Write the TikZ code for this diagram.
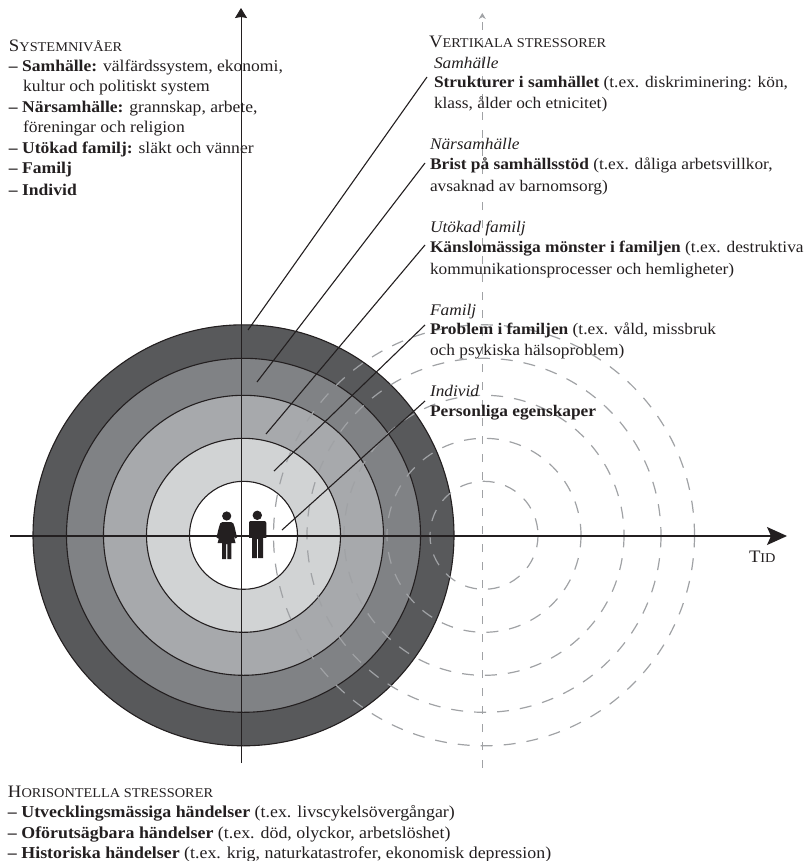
\documentclass[tikz,border=0pt]{standalone}
\usepackage{fontspec}
\setmainfont[FakeStretch=1.07]{Liberation Serif}
\usetikzlibrary{arrows.meta}
\definecolor{ink}{HTML}{231F20}
\definecolor{ringA}{HTML}{58595B}
\definecolor{ringB}{HTML}{808285}
\definecolor{ringC}{HTML}{A7A9AC}
\definecolor{ringD}{HTML}{D1D3D4}
\definecolor{dashgray}{HTML}{A0A2A5}
\newcommand\capsmall[2]{{\fontsize{17.5}{20}\selectfont #1}{\fontsize{13.4}{20}\selectfont #2}}
\tikzset{
  txt/.style={anchor=base west,inner sep=0pt,outer sep=0pt,text=ink,font=\fontsize{16.2}{20}\selectfont},
  txtleft/.style={txt,font=\fontsize{16.4}{20}\selectfont},
  txtbottom/.style={txt,font=\fontsize{16.7}{20}\selectfont},
  ringline/.style={draw=ink,line width=1.1pt},
  dashring/.style={draw=dashgray,line width=1.2pt,dash pattern=on 12pt off 11pt},
  axisline/.style={draw=ink,line width=1pt},
  leader/.style={draw=ink,line width=1.1pt},
  person/.style={fill=ink,draw=none}
}
\begin{document}
\begin{tikzpicture}[x=1pt,y=-1pt]
\useasboundingbox (0,0) rectangle (807,861);
% coordinates
\coordinate (c) at (243.5,535.3);
\coordinate (d) at (484,535.3);
% rings
\foreach \r/\f in {210.5/ringA,177/ringB,140/ringC,97/ringD,54/white}
  \path[ringline,fill=\f] (c) circle[radius=\r];
% time-shifted dashed rings
\foreach \r in {210.5,177,140,97,54}
  \path[dashring] (d) circle[radius=\r];
% axes
\coordinate (vtop) at (241,8);
\coordinate (vbot) at (241,763);
\coordinate (dtop) at (482.3,13);
\coordinate (dbot) at (482.3,768);
\coordinate (hleft) at (10,536);
\coordinate (hright) at (787,536);
\draw[draw=dashgray,line width=.8pt,dash pattern=on 8pt off 10pt,-{Stealth[length=6pt,width=7pt,fill=dashgray]}] (dbot) -- (dtop);
\draw[axisline,-{Stealth[length=10pt,width=12pt,inset=1pt]}] (vbot) -- (vtop);
\draw[axisline,line width=1.3pt,-{Stealth[length=20pt,width=18pt,inset=4pt]}] (hleft) -- (hright);
% people
\fill[person] (226.7,516) circle[radius=4.6];
\fill[person] (222.5,522) -- (231,522) .. controls (233,522) and (234,524) .. (234.6,527) -- (237,537.5) -- (235,538.5) -- (232.5,531) -- (235.5,543) -- (231.3,543) -- (231.3,559) -- (227.3,559) -- (227.3,544) -- (226.2,544) -- (226.2,559) -- (222.2,559) -- (222.2,543) -- (217.6,543) -- (221,531) -- (218.5,538.5) -- (216.5,537.5) -- (219,527) .. controls (219.7,524) and (220.5,522) .. (222.5,522) -- cycle;
\fill[person] (257.3,515.3) circle[radius=4.7];
\fill[person] (250.5,521) -- (264.3,521) .. controls (265.5,521) and (266.3,522) .. (266.3,523) -- (266.3,537.8) -- (263,537.8) -- (263,558) -- (258,558) -- (258,539) -- (256.8,539) -- (256.8,558) -- (252,558) -- (252,537.8) -- (249,537.8) -- (249,523) .. controls (249,522) and (249.5,521) .. (250.5,521) -- cycle;
% leaders
\coordinate (l1a) at (427,77); \coordinate (l1b) at (248,330);
\coordinate (l2a) at (425,163); \coordinate (l2b) at (257,382);
\coordinate (l3a) at (425,245); \coordinate (l3b) at (266,434);
\coordinate (l4a) at (425,325); \coordinate (l4b) at (274,471);
\coordinate (l5a) at (425,401); \coordinate (l5b) at (282,530);
\draw[leader] (l1a) -- (l1b);
\draw[leader] (l2a) -- (l2b);
\draw[leader] (l3a) -- (l3b);
\draw[leader] (l4a) -- (l4b);
\draw[leader] (l5a) -- (l5b);
% system levels
\node[txtleft] (sys0) at (9,52) {\capsmall{S}{YSTEMNIVÅER}};
\node[txtleft] (sys1) at (9,72) {\textbf{– Samhälle:} välfärdssystem, ekonomi,};
\node[txtleft] (sys2) at (23,92) {kultur och politiskt system};
\node[txtleft] (sys3) at (9,113) {\textbf{– Närsamhälle:} grannskap, arbete,};
\node[txtleft] (sys4) at (23,133) {föreningar och religion};
\node[txtleft] (sys5) at (9,154) {\textbf{– Utökad familj:} släkt och vänner};
\node[txtleft] (sys6) at (9,174) {\textbf{– Familj}};
\node[txtleft] (sys7) at (9,195) {\textbf{– Individ}};
% vertical stressors
\node[txt] (v0) at (429,48) {\capsmall{V}{ERTIKALA STRESSORER}};
\node[txt] (v1) at (434,69) {\textit{Samhälle}};
\node[txt] (v2) at (434,88) {\textbf{Strukturer i samhället} (t.ex. diskriminering: kön,};
\node[txt] (v3) at (434,109) {klass, ålder och etnicitet)};
\node[txt] (v4) at (430,150) {\textit{Närsamhälle}};
\node[txt] (v5) at (430,170) {\textbf{Brist på samhällsstöd} (t.ex. dåliga arbetsvillkor,};
\node[txt] (v6) at (430,191) {avsaknad av barnomsorg)};
\node[txt] (v7) at (430,232) {\textit{Utökad familj}};
\node[txt] (v8) at (430,252) {\textbf{Känslomässiga mönster i familjen} (t.ex. destruktiva};
\node[txt] (v9) at (430,274) {kommunikationsprocesser och hemligheter)};
\node[txt] (v10) at (430,315) {\textit{Familj}};
\node[txt] (v11) at (430,334) {\textbf{Problem i familjen} (t.ex. våld, missbruk};
\node[txt] (v12) at (430,355) {och psykiska hälsoproblem)};
\node[txt] (v13) at (430,396) {\textit{Individ}};
\node[txt] (v14) at (430,416) {\textbf{Personliga egenskaper}};
% time
\node[txt] (tid) at (749,562) {\capsmall{T}{ID}};
% horizontal stressors
\node[txtbottom] (h0) at (8,797) {\capsmall{H}{ORISONTELLA STRESSORER}};
\node[txtbottom] (h1) at (8,817.7) {\textbf{– Utvecklingsmässiga händelser} (t.ex. livscykelsövergångar)};
\node[txtbottom] (h2) at (8,838) {\textbf{– Oförutsägbara händelser} (t.ex. död, olyckor, arbetslöshet)};
\node[txtbottom] (h3) at (8,858) {\textbf{– Historiska händelser} (t.ex. krig, naturkatastrofer, ekonomisk depression)};
\end{tikzpicture}
\end{document}
